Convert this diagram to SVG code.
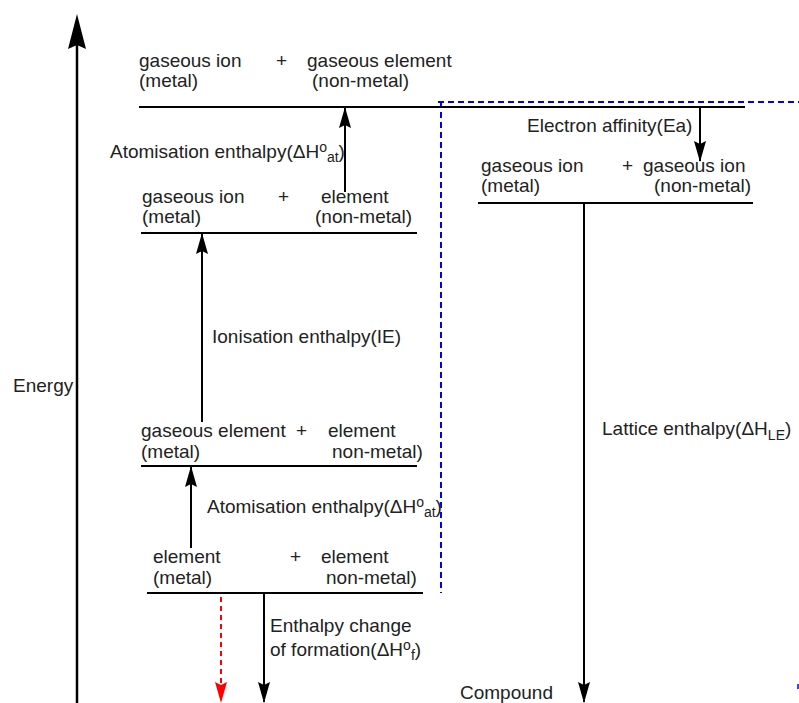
<svg xmlns="http://www.w3.org/2000/svg" width="799" height="703" viewBox="0 0 799 703">
<style>
text{font-family:"Liberation Sans",Arial,sans-serif;font-size:19px;fill:#222}
.lvl{stroke:#000;stroke-width:2;fill:none}
.blue{stroke:#0000ee;stroke-width:2;stroke-dasharray:6,4;fill:none}
.sub{font-size:14px}
</style>
<g id="axis">
<line x1="77" y1="703" x2="77" y2="40" stroke="#000" stroke-width="2.5"/>
<path d="M77,14 L86,49 L77,45 L68,49 Z" fill="#000"/>
<text x="13" y="392">Energy</text>
</g>
<g id="connectors">
<line class="blue" x1="438" y1="102" x2="799" y2="102"/>
<line class="blue" x1="441" y1="102" x2="441" y2="593"/>
<line x1="798" y1="684" x2="798" y2="689" stroke="#0000ee" stroke-width="1.5"/>
<path d="M345,192 L345,107" class="lvl"/>
<path d="M339,128 L345,107 L351,128 L345,125 Z" fill="#000"/>
<path d="M202,422 L202,233" class="lvl"/>
<path d="M196,254 L202,233 L208,254 L202,251 Z" fill="#000"/>
<path d="M191,548 L191,466" class="lvl"/>
<path d="M185,487 L191,466 L197,487 L191,484 Z" fill="#000"/>
<path d="M700,107 L700,161" class="lvl"/>
<path d="M694,141 L700,162 L706,141 L700,144 Z" fill="#000"/>
<path d="M584,203 L584,702" class="lvl"/>
<path d="M578,682 L584,703 L590,682 L584,685 Z" fill="#000"/>
<path d="M264,593 L264,702" class="lvl"/>
<path d="M258,682 L264,703 L270,682 L264,685 Z" fill="#000"/>
<path d="M221,597 L221,690" stroke="#ff0000" stroke-width="2" stroke-dasharray="5,4" fill="none"/>
<path d="M215,682 L221,703 L227,682 L221,685 Z" fill="#ff0000"/>
</g>
<g id="level-top">
<line class="lvl" x1="139" y1="107" x2="745" y2="107"/>
<text x="139" y="67">gaseous ion</text>
<text x="139" y="87">(metal)</text>
<text x="276" y="67">+</text>
<text x="307" y="67">gaseous element</text>
<text x="312" y="87">(non-metal)</text>
</g>
<g id="level-ions">
<line class="lvl" x1="478" y1="203" x2="753" y2="203"/>
<text x="481" y="172">gaseous ion</text>
<text x="481" y="192">(metal)</text>
<text x="622" y="172">+</text>
<text x="643" y="172">gaseous ion</text>
<text x="654" y="192">(non-metal)</text>
</g>
<g id="level-2">
<line class="lvl" x1="141" y1="233" x2="417" y2="233"/>
<text x="142" y="203">gaseous ion</text>
<text x="142" y="223">(metal)</text>
<text x="278" y="203">+</text>
<text x="321" y="203">element</text>
<text x="315" y="223">(non-metal)</text>
</g>
<g id="level-3">
<line class="lvl" x1="141" y1="466" x2="417" y2="466"/>
<text x="141" y="437">gaseous element</text>
<text x="141" y="458">(metal)</text>
<text x="296" y="437">+</text>
<text x="328" y="437">element</text>
<text x="332" y="458">non-metal)</text>
</g>
<g id="level-bottom">
<line class="lvl" x1="147" y1="593" x2="423" y2="593"/>
<text x="153" y="563">element</text>
<text x="153" y="584">(metal)</text>
<text x="290" y="563">+</text>
<text x="321" y="563">element</text>
<text x="326" y="584">non-metal)</text>
</g>
<g id="labels">
<text x="110" y="158">Atomisation enthalpy(ΔH<tspan dy="-6" class="sub">o</tspan><tspan dy="10" class="sub">at</tspan><tspan dy="-4">)</tspan></text>
<text x="527" y="132">Electron affinity(Ea)</text>
<text x="212" y="343">Ionisation enthalpy(IE)</text>
<text x="207" y="513">Atomisation enthalpy(ΔH<tspan dy="-6" class="sub">o</tspan><tspan dy="10" class="sub">at</tspan><tspan dy="-4">)</tspan></text>
<text x="602" y="435">Lattice enthalpy(ΔH<tspan dy="5" class="sub">LE</tspan><tspan dy="-5">)</tspan></text>
<text x="270" y="632">Enthalpy change</text>
<text x="270" y="656">of formation(ΔH<tspan dy="-6" class="sub">o</tspan><tspan dy="10" class="sub">f</tspan><tspan dy="-4">)</tspan></text>
<text x="460" y="699">Compound</text>
</g>
</svg>
